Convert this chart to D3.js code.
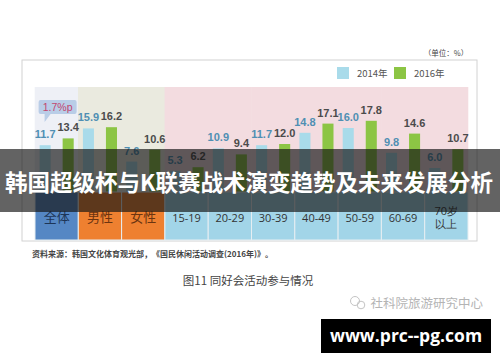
<!DOCTYPE html>
<html>
<head>
<meta charset="utf-8">
<script src="https://cdn.jsdelivr.net/npm/d3@7"></script>
<style>
  body { margin: 0; background: #fff; }
  svg { display: block; }
</style>
</head>
<body>
<div id="chart"></div>
<script>
(function() {
  var width = 500, height = 362;

  // data
  var categories = ["全体", "男性", "女性", "15-19", "20-29", "30-39", "40-49", "50-59", "60-69", "70岁以上"];
  var groups = ["all", "sex", "sex", "age", "age", "age", "age", "age", "age", "age"];
  var years = ["2014年", "2016年"];
  var values2014 = [11.7, 15.9, 7.6, 5.3, 10.9, 11.7, 14.8, 16.0, 9.8, 6.0];
  var values2016 = [13.4, 16.2, 10.6, 6.2, 9.4, 12.0, 17.1, 17.8, 14.6, 10.7];

  var cjk = "'Noto Sans CJK SC', sans-serif";
  var sans = "'Liberation Sans', Arial, sans-serif";

  var svg = d3.select("#chart")
    .append("svg")
    .attr("width", width)
    .attr("height", height);

  var xPositionScale = d3.scaleBand().domain(categories).range([35, 468]);
  var xInner = d3.scaleBand().domain(years)
    .range([0, xPositionScale.bandwidth()])
    .paddingInner(0.52).paddingOuter(0.2);
  var yPositionScale = d3.scaleLinear().domain([0, 20]).range([192, 112]);

  var barColor = { "2014年": "#a9dbea", "2016年": "#8cc544" };
  var labelColor = { "2014年": "#4f8fb3", "2016年": "#4b4b4b" };
  var bandColor = { all: "#eef0f6", sex: "#eaeadf", age: "#f3dce0" };
  var cellColor = { all: "#5587c4", sex: "#ee8030", age: "#a2d5e8" };
  var cellText = { all: "#1d3557", sex: "#6b3410", age: "#333" };

  // unit
  svg.append("text")
    .attr("x", 446).attr("y", 56)
    .attr("text-anchor", "middle")
    .attr("font-family", cjk).attr("font-size", 7.5)
    .attr("fill", "#444")
    .text("（单位：%）");

  // frame
  svg.append("rect")
    .attr("x", 22).attr("y", 60)
    .attr("width", 455).attr("height", 181)
    .attr("fill", "#fff")
    .attr("stroke", "#d2d2d2");

  // legend
  var legend = svg.selectAll(".legend")
    .data(years)
    .enter().append("g")
    .attr("class", "legend")
    .attr("transform", function(d, i) { return "translate(" + (337 + i * 57) + ",67)"; });
  legend.append("rect")
    .attr("width", 12).attr("height", 12)
    .attr("fill", function(d) { return barColor[d]; });
  legend.append("text")
    .attr("x", 20).attr("y", 10)
    .attr("font-family", cjk).attr("font-size", 9.5)
    .attr("fill", "#555")
    .text(function(d) { return d; });

  // background bands
  svg.selectAll(".band")
    .data(categories)
    .enter().append("rect")
    .attr("class", "band")
    .attr("x", function(d) { return xPositionScale(d) - 0.3; })
    .attr("y", 87)
    .attr("width", xPositionScale.bandwidth() + 0.6)
    .attr("height", yPositionScale(0) - 87)
    .attr("fill", function(d, i) { return bandColor[groups[i]]; });

  // bars
  var rows = categories.map(function(c, i) {
    return [
      { cat: c, year: years[0], value: values2014[i] },
      { cat: c, year: years[1], value: values2016[i] }
    ];
  });
  var flat = d3.merge(rows);

  svg.selectAll(".bar")
    .data(flat)
    .enter().append("rect")
    .attr("class", "bar")
    .attr("x", function(d) { return xPositionScale(d.cat) + xInner(d.year); })
    .attr("y", function(d) { return yPositionScale(d.value); })
    .attr("width", xInner.bandwidth())
    .attr("height", function(d) { return yPositionScale(0) - yPositionScale(d.value); })
    .attr("fill", function(d) { return barColor[d.year]; });

  svg.selectAll(".val")
    .data(flat)
    .enter().append("text")
    .attr("class", "val")
    .attr("x", function(d) { return xPositionScale(d.cat) + xInner(d.year) + xInner.bandwidth() / 2; })
    .attr("y", function(d) { return yPositionScale(d.value) - 7; })
    .attr("text-anchor", "middle")
    .attr("font-family", sans).attr("font-size", 11).attr("font-weight", "bold")
    .attr("fill", function(d) { return labelColor[d.year]; })
    .text(function(d) { return d.value.toFixed(1); });

  // callout
  var cx = xPositionScale(categories[0]) + xInner(years[0]);
  var callout = svg.append("g");
  callout.append("path")
    .attr("d", "M" + (cx + 1) + ",100 h34 a2,2 0 0 1 2,2 v10 a2,2 0 0 1 -2,2 h-24 l-6,8 v-8 h-4 a2,2 0 0 1 -2,-2 v-10 a2,2 0 0 1 2,-2 z")
    .attr("fill", "#b9cde7");
  callout.append("text")
    .attr("x", cx + 18).attr("y", 111)
    .attr("text-anchor", "middle")
    .attr("font-family", sans).attr("font-size", 10.5)
    .attr("fill", "#c2466e")
    .text("1.7%p");

  // category cells
  var cells = svg.selectAll(".cell")
    .data(categories)
    .enter().append("g")
    .attr("class", "cell")
    .attr("transform", function(d) { return "translate(" + xPositionScale(d) + "," + yPositionScale(0) + ")"; });
  cells.append("rect")
    .attr("width", xPositionScale.bandwidth())
    .attr("height", 48)
    .attr("fill", function(d, i) { return cellColor[groups[i]]; })
    .attr("stroke", "#e6eef2")
    .attr("stroke-width", 1);
  cells.append("text")
    .attr("x", xPositionScale.bandwidth() / 2)
    .attr("text-anchor", "middle")
    .attr("font-family", function(d, i) { return groups[i] === "age" ? "'Open Sans', sans-serif" : cjk; })
    .attr("font-size", function(d, i) { return groups[i] === "age" ? 11 : 13; })
    .attr("fill", function(d, i) { return cellText[groups[i]]; })
    .each(function(d) {
      var t = d3.select(this);
      if (d === "70岁以上") {
        t.append("tspan").attr("x", xPositionScale.bandwidth() / 2).attr("y", 23).text("70岁");
        t.append("tspan").attr("x", xPositionScale.bandwidth() / 2).attr("y", 36).text("以上");
      } else {
        t.attr("y", 30).text(d);
      }
    });

  // dark title overlay
  svg.append("rect")
    .attr("x", 0).attr("y", 149)
    .attr("width", width).attr("height", 63)
    .attr("fill", "rgba(18,18,18,0.66)");
  svg.append("text")
    .attr("x", 249).attr("y", 191)
    .attr("text-anchor", "middle")
    .attr("font-family", cjk).attr("font-size", 22.5).attr("font-weight", "bold")
    .attr("fill", "#fff")
    .text("韩国超级杯与K联赛战术演变趋势及未来发展分析");

  // source and caption
  svg.append("text")
    .attr("x", 32).attr("y", 257)
    .attr("font-family", cjk).attr("font-size", 8).attr("font-weight", "bold")
    .attr("fill", "#444")
    .text("资料来源：韩国文化体育观光部，《国民休闲活动调查(2016年)》。");
  svg.append("text")
    .attr("x", 248).attr("y", 285)
    .attr("text-anchor", "middle")
    .attr("font-family", cjk).attr("font-size", 11.5)
    .attr("fill", "#444")
    .text("图11  同好会活动参与情况");

  // watermark
  var wm = svg.append("g").attr("transform", "translate(355,303)");
  wm.append("circle").attr("cx", 0).attr("cy", -2).attr("r", 4.5)
    .attr("fill", "none").attr("stroke", "#c4c4c4").attr("stroke-width", 1);
  wm.append("circle").attr("cx", 6).attr("cy", 2).attr("r", 3.8)
    .attr("fill", "none").attr("stroke", "#c4c4c4").attr("stroke-width", 1);
  svg.append("text")
    .attr("x", 483).attr("y", 308)
    .attr("text-anchor", "end")
    .attr("font-family", cjk).attr("font-size", 12.5)
    .attr("fill", "#b4b4b4")
    .text("社科院旅游研究中心");

  // site badge
  svg.append("rect")
    .attr("x", 321).attr("y", 319)
    .attr("width", 170).attr("height", 34)
    .attr("fill", "#000");
  svg.append("text")
    .attr("x", 406).attr("y", 342)
    .attr("text-anchor", "middle")
    .attr("font-family", "'Open Sans', sans-serif").attr("font-size", 17.5).attr("font-weight", "bold")
    .attr("fill", "#fff")
    .text("www.prc--pg.com");
})();
</script>
</body>
</html>
